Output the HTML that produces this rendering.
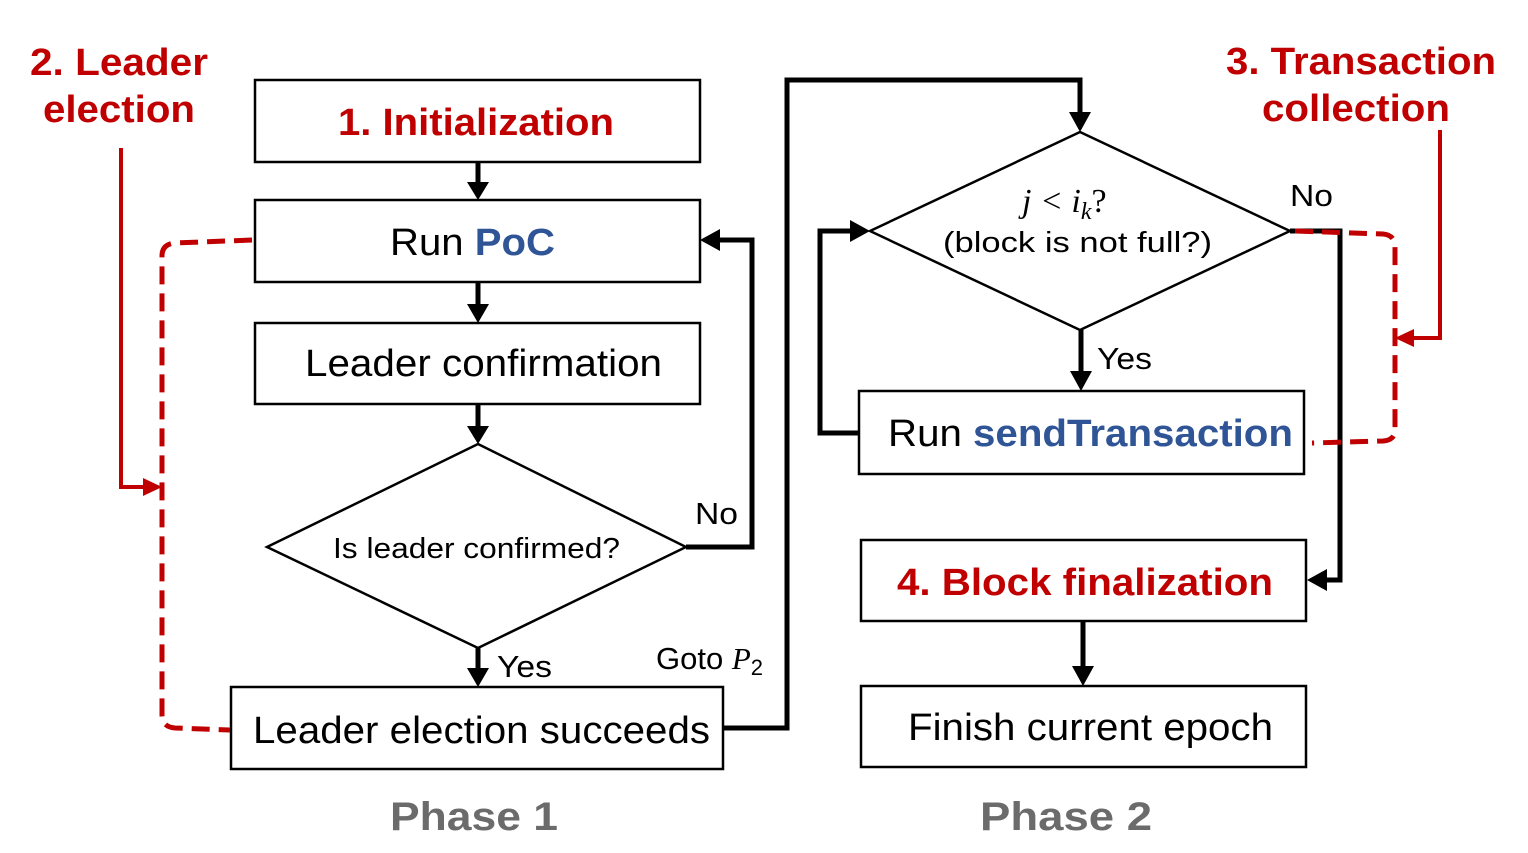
<!DOCTYPE html>
<html><head><meta charset="utf-8"><style>html,body{margin:0;padding:0;background:#fff}svg{display:block}</style></head><body>
<svg width="1528" height="853" viewBox="0 0 1528 853" xmlns="http://www.w3.org/2000/svg" font-family="Liberation Sans, Arial, sans-serif">
<g fill="none" stroke="#000" stroke-width="2.5">
<rect x="255" y="80" width="445" height="82"/>
<rect x="255" y="200" width="445" height="82"/>
<rect x="255" y="323" width="445" height="81"/>
<polygon points="267,547 478,444 686,547 478,648"/>
<rect x="231" y="687" width="492" height="82"/>
<polygon points="870,231 1080,132 1290,231 1080,330"/>
<rect x="859" y="391" width="445" height="83"/>
<rect x="861" y="540" width="445" height="81"/>
<rect x="861" y="686" width="445" height="81"/>
</g>
<g fill="none" stroke="#000" stroke-width="5">
<line x1="478" y1="162" x2="478" y2="184"/>
<line x1="478" y1="282" x2="478" y2="306"/>
<line x1="478" y1="404" x2="478" y2="428"/>
<line x1="478" y1="648" x2="478" y2="670"/>
<polyline points="686,547 752,547 752,240 718,240"/>
<polyline points="723,728 787,728 787,80 1080,80 1080,114"/>
<line x1="1081" y1="330" x2="1081" y2="373"/>
<polyline points="859,433 820,433 820,231 852,231"/>
<polyline points="1290,231 1340,231 1340,580 1325,580"/>
<line x1="1083" y1="621" x2="1083" y2="668"/>
</g>
<g fill="#000">
<path d="M467,182 L489,182 L478,200z"/>
<path d="M467,304 L489,304 L478,323z"/>
<path d="M467,426 L489,426 L478,444z"/>
<path d="M467,668 L489,668 L478,687z"/>
<path d="M720,229 L720,251 L700,240z"/>
<path d="M1069,112 L1091,112 L1080,132z"/>
<path d="M1070,371 L1092,371 L1081,391z"/>
<path d="M850,220 L850,242 L870,231z"/>
<path d="M1327,569 L1327,591 L1307,580z"/>
<path d="M1072,666 L1094,666 L1083,686z"/>
</g>
<g fill="none" stroke="#c00000" stroke-width="4">
<polyline points="121,148 121,487 145,487"/>
<polyline points="1440,130 1440,338 1412,338"/>
</g>
<g fill="#c00000">
<path d="M143,478 L143,496 L162,487z"/>
<path d="M1414,329 L1414,347 L1395,338z"/>
</g>
<g fill="none" stroke="#c00000" stroke-width="5" stroke-dasharray="18,9">
<path d="M252,240 L175,243 Q162,244 162,256 L162,715 Q162,727 175,728 L230,730"/>
<path d="M1295,231 L1383,234 Q1395,235 1395,247 L1395,430 Q1395,440 1383,441 L1312,443"/>
</g>
<g font-weight="bold" fill="#c00000" font-size="38">
<text x="338" y="135" textLength="276" lengthAdjust="spacingAndGlyphs">1. Initialization</text>
<text x="897" y="595" textLength="376" lengthAdjust="spacingAndGlyphs">4. Block finalization</text>
<text x="30" y="75" textLength="178" lengthAdjust="spacingAndGlyphs">2. Leader</text>
<text x="43" y="122" textLength="152" lengthAdjust="spacingAndGlyphs">election</text>
<text x="1226" y="74" textLength="270" lengthAdjust="spacingAndGlyphs">3. Transaction</text>
<text x="1262" y="121" textLength="188" lengthAdjust="spacingAndGlyphs">collection</text>
</g>
<g font-size="38" fill="#000">
<text x="390" y="255" textLength="165" lengthAdjust="spacingAndGlyphs">Run <tspan fill="#2f5597" font-weight="bold">PoC</tspan></text>
<text x="305" y="376" textLength="357" lengthAdjust="spacingAndGlyphs">Leader confirmation</text>
<text x="253" y="743" textLength="457" lengthAdjust="spacingAndGlyphs">Leader election succeeds</text>
<text x="888" y="446" textLength="405" lengthAdjust="spacingAndGlyphs">Run <tspan fill="#2f5597" font-weight="bold">sendTransaction</tspan></text>
<text x="908" y="740" textLength="365" lengthAdjust="spacingAndGlyphs">Finish current epoch</text>
</g>
<g font-size="31" fill="#000">
<text x="333" y="558" font-size="29" textLength="287" lengthAdjust="spacingAndGlyphs">Is leader confirmed?</text>
<text x="943" y="252" font-size="29" textLength="269" lengthAdjust="spacingAndGlyphs">(block is not full?)</text>
<text x="695" y="524" textLength="43" lengthAdjust="spacingAndGlyphs">No</text>
<text x="1290" y="206" textLength="43" lengthAdjust="spacingAndGlyphs">No</text>
<text x="497" y="677" textLength="55" lengthAdjust="spacingAndGlyphs">Yes</text>
<text x="1097" y="369" textLength="55" lengthAdjust="spacingAndGlyphs">Yes</text>
<text x="656" y="669">Goto <tspan font-family="Liberation Serif, serif" font-style="italic">P</tspan><tspan font-size="22" dy="6">2</tspan></text>
<text x="1022" y="212" font-size="34" font-family="Liberation Serif, serif" font-style="italic">j &lt; i<tspan font-size="24" dy="7">k</tspan><tspan dy="-7" font-style="normal">?</tspan></text>
</g>
<g font-weight="bold" fill="#6b6b6b" font-size="40">
<text x="390" y="830" textLength="168" lengthAdjust="spacingAndGlyphs">Phase 1</text>
<text x="980" y="830" textLength="172" lengthAdjust="spacingAndGlyphs">Phase 2</text>
</g>
</svg>
</body></html>
